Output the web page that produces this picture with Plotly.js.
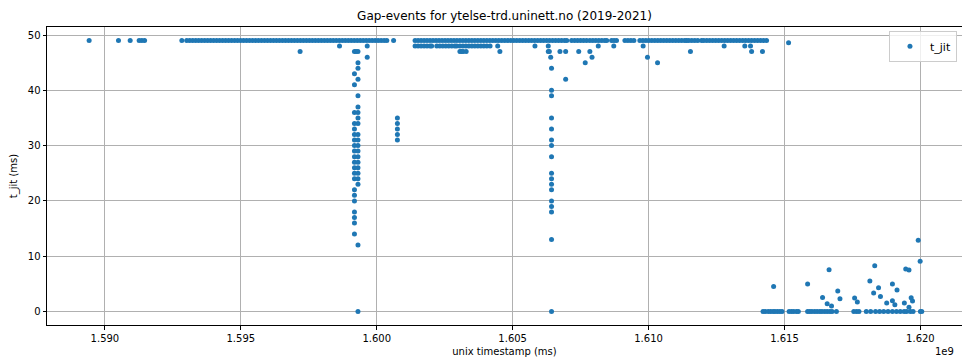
<!DOCTYPE html>
<html>
<head>
<meta charset="utf-8">
<script src="https://cdn.plot.ly/plotly-3.0.1.min.js"></script>
<style>html,body{margin:0;padding:0;background:#fff;}#chart{width:962px;height:360px;}</style>
</head>
<body>
<div id="chart"></div>
<script>
// ---- DATA (timestamps in ms as plotted, t_jit in ms) ----
// dense / scattered events at t_jit = 49
const band49 = [
  1589.42e6, 1590.50e6, 1590.93e6, 1591.26e6, 1591.36e6, 1591.46e6, 1592.83e6,
  1593.01e6, 1593.12e6, 1593.23e6, 1593.34e6, 1593.45e6, 1593.56e6, 1593.67e6, 1593.78e6, 1593.89e6,
  1594.00e6, 1594.11e6, 1594.22e6, 1594.33e6, 1594.44e6, 1594.55e6, 1594.66e6, 1594.77e6, 1594.88e6, 1594.99e6,
  1595.10e6, 1595.21e6, 1595.32e6, 1595.43e6, 1595.54e6, 1595.65e6, 1595.76e6, 1595.87e6, 1595.98e6,
  1596.09e6, 1596.20e6, 1596.31e6, 1596.42e6, 1596.53e6, 1596.64e6, 1596.75e6, 1596.86e6, 1596.97e6,
  1597.08e6, 1597.19e6, 1597.30e6, 1597.41e6, 1597.52e6, 1597.63e6, 1597.74e6, 1597.85e6, 1597.96e6,
  1598.07e6, 1598.18e6, 1598.29e6, 1598.40e6, 1598.51e6, 1598.62e6, 1598.73e6, 1598.84e6, 1598.95e6,
  1599.06e6, 1599.17e6, 1599.28e6, 1599.39e6, 1599.50e6, 1599.61e6, 1599.72e6, 1599.83e6, 1599.94e6,
  1600.05e6, 1600.16e6, 1600.27e6, 1600.37e6, 1600.62e6,
  1601.41e6, 1601.52e6, 1601.63e6, 1601.74e6, 1601.85e6, 1601.96e6,
  1602.07e6, 1602.18e6, 1602.29e6, 1602.40e6, 1602.51e6, 1602.62e6, 1602.73e6, 1602.84e6, 1602.95e6,
  1603.06e6, 1603.17e6, 1603.28e6, 1603.39e6, 1603.50e6, 1603.61e6, 1603.72e6, 1603.83e6, 1603.94e6,
  1604.05e6, 1604.16e6, 1604.27e6, 1604.38e6, 1604.49e6, 1604.60e6, 1604.71e6, 1604.82e6, 1604.93e6,
  1605.04e6, 1605.15e6, 1605.26e6, 1605.37e6, 1605.48e6, 1605.59e6, 1605.70e6, 1605.81e6, 1605.92e6,
  1606.03e6, 1606.14e6, 1606.25e6, 1606.36e6, 1606.47e6, 1606.58e6, 1606.69e6, 1606.80e6, 1606.91e6, 1606.99e6,
  1607.17e6, 1607.28e6, 1607.39e6, 1607.50e6, 1607.61e6, 1607.72e6,
  1607.84e6, 1607.95e6, 1608.06e6, 1608.17e6, 1608.28e6, 1608.39e6, 1608.46e6,
  1608.64e6, 1608.73e6, 1608.82e6,
  1609.13e6, 1609.24e6, 1609.35e6, 1609.46e6,
  1609.68e6, 1609.79e6, 1609.90e6, 1610.01e6, 1610.12e6, 1610.23e6, 1610.34e6, 1610.45e6, 1610.56e6,
  1610.67e6, 1610.78e6, 1610.89e6, 1611.00e6, 1611.11e6, 1611.22e6, 1611.33e6, 1611.40e6,
  1611.48e6, 1611.59e6, 1611.70e6, 1611.81e6, 1611.95e6,
  1612.03e6, 1612.14e6, 1612.25e6, 1612.36e6, 1612.47e6, 1612.58e6, 1612.69e6, 1612.80e6, 1612.91e6,
  1613.02e6, 1613.13e6, 1613.24e6, 1613.35e6, 1613.46e6, 1613.57e6, 1613.68e6, 1613.79e6, 1613.90e6,
  1614.01e6, 1614.12e6, 1614.23e6, 1614.34e6
];
// events at t_jit = 48
const band48 = [
  1598.63e6, 1599.65e6,
  1601.41e6, 1601.52e6, 1601.63e6, 1601.74e6, 1601.85e6, 1601.96e6, 1602.02e6,
  1602.21e6, 1602.32e6, 1602.43e6, 1602.54e6, 1602.65e6, 1602.76e6, 1602.87e6, 1602.94e6,
  1603.06e6, 1603.17e6, 1603.28e6, 1603.39e6, 1603.50e6, 1603.61e6, 1603.72e6, 1603.83e6, 1603.94e6,
  1604.05e6, 1604.17e6, 1604.45e6, 1605.82e6, 1606.31e6, 1608.15e6, 1608.72e6, 1609.80e6,
  1612.78e6, 1613.54e6, 1613.75e6
];
// events at t_jit = 47
const band47 = [
  1597.18e6, 1599.18e6, 1599.24e6, 1599.31e6, 1603.06e6, 1603.12e6, 1603.18e6, 1603.29e6,
  1604.53e6, 1606.31e6, 1606.35e6, 1606.74e6, 1606.95e6, 1607.43e6, 1607.84e6, 1611.54e6,
  1613.79e6, 1614.19e6
];
// events at t_jit = 46
const band46 = [1599.65e6, 1606.40e6, 1607.92e6, 1609.96e6];
// other single events near the top
const singleTimes  = [1607.67e6, 1610.33e6, 1606.95e6, 1615.15e6];
const singleValues = [45, 45, 42, 48.6];

// bursts: many values at (nearly) one timestamp
const burstTimes = [1599.18e6, 1599.31e6, 1600.76e6, 1606.43e6];
const burstValues = [
  [43, 41, 36, 34, 33, 32, 31, 30, 29, 28, 27, 26, 25, 24, 22, 21, 20, 18, 17, 16, 14],
  [45, 44, 42, 39, 37, 36, 35, 34, 32, 31, 30, 29, 28, 27, 26, 25, 24, 23, 12, 0],
  [35, 34, 33, 32, 31],
  [44, 40, 39, 35, 33, 31, 30, 28, 25, 24, 23, 22, 20, 19, 18, 13, 0]
];

// low-jitter period (2021)
const lowTimes = [
  1614.21e6, 1614.29e6, 1614.40e6, 1614.49e6, 1614.58e6, 1614.65e6, 1614.74e6, 1614.83e6, 1614.91e6,
  1615.17e6, 1615.26e6, 1615.34e6, 1615.44e6, 1615.51e6,
  1615.85e6, 1615.93e6, 1616.01e6, 1616.11e6, 1616.20e6, 1616.30e6, 1616.38e6, 1616.48e6, 1616.57e6,
  1616.67e6, 1616.75e6, 1616.91e6,
  1617.55e6, 1617.65e6, 1617.74e6,
  1618.01e6, 1618.17e6, 1618.35e6, 1618.50e6, 1618.65e6, 1618.81e6, 1618.97e6, 1619.12e6, 1619.26e6,
  1619.40e6, 1619.49e6, 1619.63e6, 1619.73e6, 1620.00e6, 1620.05e6,
  1614.60e6, 1615.85e6, 1616.64e6, 1616.40e6, 1616.57e6, 1616.73e6, 1616.96e6, 1617.04e6,
  1617.58e6, 1617.68e6, 1618.14e6, 1618.32e6, 1618.28e6, 1618.46e6, 1618.53e6, 1618.76e6,
  1618.97e6, 1618.97e6, 1619.06e6, 1619.14e6, 1619.41e6, 1619.46e6, 1619.58e6, 1619.58e6,
  1619.66e6, 1619.71e6, 1619.99e6, 1619.92e6
];
const lowValues = [
  0, 0, 0, 0, 0, 0, 0, 0, 0,
  0, 0, 0, 0, 0,
  0, 0, 0, 0, 0, 0, 0, 0, 0,
  0, 0, 0,
  0, 0, 0,
  0, 0, 0, 0, 0, 0, 0, 0, 0,
  0, 0, 0, 0, 0, 0,
  4.5, 4.95, 7.55, 2.54, 1.39, 0.97, 3.68, 2.3,
  2.42, 1.69, 5.5, 8.27, 3.32, 4.29, 2.72, 1.51,
  4.95, 1.93, 1.21, 3.86, 1.51, 7.68, 7.48, 0.78,
  2.48, 1.87, 9.06, 12.9
];

const xTickVals = [1.590, 1.595, 1.600, 1.605, 1.610, 1.615, 1.620];
const yTickVals = [0, 10, 20, 30, 40, 50];

// ---- build the single series ----
const xs = [], ys = [];
function add(t, v) { xs.push(t / 1e9); ys.push(v); }
band49.forEach(t => add(t, 49));
band48.forEach(t => add(t, 48));
band47.forEach(t => add(t, 47));
band46.forEach(t => add(t, 46));
singleTimes.forEach((t, i) => add(t, singleValues[i]));
burstTimes.forEach((t, i) => burstValues[i].forEach(v => add(t, v)));
lowTimes.forEach((t, i) => add(t, lowValues[i]));

const FONT = 'DejaVu Sans, Liberation Sans, sans-serif';

const trace = {
  type: 'scatter', mode: 'markers', name: 't_jit',
  x: xs, y: ys,
  marker: {color: '#1f77b4', size: 5, line: {width: 0}},
  showlegend: true
};

const axisCommon = {
  showline: true, linecolor: '#000', linewidth: 1, mirror: true,
  ticks: 'outside', ticklen: 3.5, tickwidth: 1, tickcolor: '#000',
  showgrid: true, gridcolor: '#b0b0b0', gridwidth: 1, zeroline: false,
  tickfont: {family: FONT, size: 10, color: '#000'},
  automargin: false
};

const layout = {
  width: 962, height: 360,
  margin: {l: 47, r: 0, t: 27, b: 35},
  paper_bgcolor: '#fff', plot_bgcolor: '#fff',
  font: {family: FONT, color: '#000'},
  title: {text: 'Gap-events for ytelse-trd.uninett.no (2019-2021)',
          font: {family: FONT, size: 12, color: '#000'},
          x: 0.5, xref: 'paper', y: 0.955, yref: 'container', yanchor: 'middle'},
  xaxis: Object.assign({}, axisCommon, {
    range: [1.58787, 1.62153],
    tickvals: xTickVals, tickformat: '.3f',
    title: {text: 'unix timestamp (ms)', font: {family: FONT, size: 10, color: '#000'}, standoff: 5}
  }),
  yaxis: Object.assign({}, axisCommon, {
    range: [-2.45, 51.45],
    tickvals: yTickVals,
    title: {text: 't_jit (ms)', font: {family: FONT, size: 10, color: '#000'}, standoff: 8}
  }),
  showlegend: true,
  legend: {x: 0.9945, xanchor: 'right', y: 0.987, yanchor: 'top',
           bgcolor: 'rgba(255,255,255,0.8)', bordercolor: '#cccccc', borderwidth: 1,
           font: {family: FONT, size: 11, color: '#000'}},
  annotations: [{text: '1e9', xref: 'paper', yref: 'paper', x: 0.981, y: -0.09,
                 xanchor: 'center', yanchor: 'middle', showarrow: false,
                 font: {family: FONT, size: 10, color: '#000'}}]
};

Plotly.newPlot('chart', [trace], layout, {staticPlot: true, displayModeBar: false});
</script>
</body>
</html>
